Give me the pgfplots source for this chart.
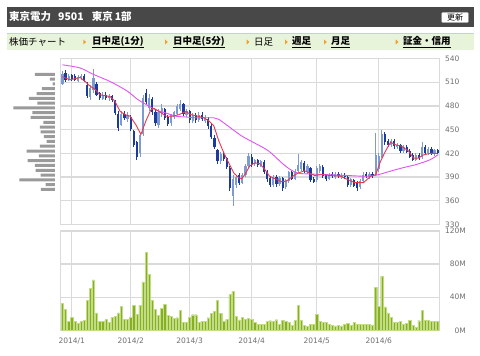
\documentclass[border=0pt]{standalone}
\usepackage{fontspec}
\usepackage{pgfplots}
\usepackage{pgfplotstable}
\pgfplotsset{compat=1.18}
\setmainfont{Noto Sans CJK JP}
\newfontfamily\tickfont{DejaVu Sans}
\definecolor{hdr}{HTML}{484848}
\definecolor{navbg}{HTML}{E8F4D9}
\definecolor{navln}{HTML}{C2DDA2}
\definecolor{tri}{HTML}{F0A030}
\definecolor{gridc}{HTML}{DADADA}
\definecolor{tickc}{HTML}{707070}
\definecolor{upc}{HTML}{7D9BD1}
\definecolor{dnc}{HTML}{1D3B9E}
\definecolor{maone}{HTML}{E8384F}
\definecolor{matwo}{HTML}{DD55F2}
\definecolor{volc}{HTML}{86B022}
\definecolor{voll}{HTML}{C3DC86}
\definecolor{histc}{HTML}{9A9A9A}

\pgfplotstableread{
i o h l c
0 508 524 506 520
1 522 526 510 513
2 514 520 511 518
3 519 521 512 514
4 518 520 512 513
5 512 519 510 517
6 516 520 513 518
7 518 521 510 512
8 507 510 490 493
9 491 506 487 503
10 500 527 496 515
11 508 510 492 494
12 496 498 488 490
13 489 497 487 494
14 494 497 488 490
15 490 495 486 492
16 492 494 485 487
17 486 488 468 471
18 470 474 448 452
19 456 474 454 470
20 470 473 462 465
21 463 472 460 468
22 466 468 448 451
23 448 450 428 431
24 434 436 412 416
25 420 446 416 443
26 444 494 442 490
27 496 502 482 485
28 478 495 474 490
29 489 491 468 472
30 472 475 455 458
31 456 476 452 472
32 470 482 466 478
33 476 478 462 465
34 466 468 454 457
35 458 470 455 468
36 466 474 463 472
37 470 483 468 480
38 476 487 473 483
39 482 484 467 470
40 469 476 466 474
41 473 475 459 462
42 461 471 459 469
43 469 471 459 462
44 462 472 460 468
45 469 472 461 463
46 461 468 459 466
47 464 466 451 454
48 455 458 438 441
49 440 443 425 428
50 424 426 406 410
51 410 422 407 419
52 418 422 410 413
53 414 416 400 403
54 402 404 372 376
55 366 392 354 388
56 380 393 376 390
57 392 395 380 383
58 383 395 381 392
59 392 407 390 404
60 404 421 402 417
61 416 419 403 407
62 406 413 404 411
63 411 413 403 405
64 405 412 403 410
65 409 411 394 397
66 397 399 384 387
67 389 391 378 380
68 380 392 378 390
69 390 392 378 381
70 381 391 379 389
71 389 390 373 376
72 377 388 375 386
73 385 398 383 396
74 396 398 386 388
75 388 400 386 397
76 398 419 396 405
77 400 412 398 409
78 408 410 395 398
79 396 406 394 404
80 402 403 384 386
81 388 390 382 384
82 386 404 384 401
83 398 406 395 404
84 403 405 389 391
85 392 394 385 387
86 388 395 386 393
87 394 396 389 391
88 390 396 388 394
89 394 396 389 391
90 390 395 388 393
91 393 395 388 390
92 390 392 378 380
93 380 389 378 387
94 386 388 377 379
95 383 385 373 376
96 377 387 375 385
97 385 396 384 393
98 394 397 389 391
99 390 396 388 394
100 394 397 389 391
101 393 446 391 418
102 400 420 397 417
103 416 449 414 444
104 445 447 431 434
105 436 438 428 430
106 430 438 428 436
107 436 438 426 429
108 428 433 426 431
109 431 432 420 423
110 423 430 421 428
111 428 430 420 422
112 423 425 414 416
113 418 420 410 412
114 412 420 410 418
115 418 420 412 414
116 415 434 413 428
117 428 431 419 421
118 420 428 418 426
119 426 428 418 420
120 419 426 417 424
121 424 425 419 421
}\candles

\pgfplotstableread{
i v
0 32.4
1 25.2
2 11.2
3 16
4 10.4
5 8.8
6 10.4
7 12
8 36
9 50.8
10 60.8
11 21.2
12 10.8
13 11.2
14 13.2
15 10
16 16
17 17.2
18 21.2
19 28.8
20 13.6
21 13.6
22 16
23 30.4
24 19.2
25 30.4
26 58.4
27 94.4
28 67.2
29 36
30 25.2
31 18.4
32 26.8
33 31.6
34 18
35 16.8
36 14.8
37 15.2
38 24
39 10
40 10
41 15.6
42 18.8
43 18.8
44 9.6
45 11.2
46 11.2
47 15.2
48 20.8
49 23.2
50 36
51 20.4
52 10.4
53 13.2
54 43.2
55 46.8
56 17.2
57 12.6
58 15.6
59 13.6
60 14.4
61 13.6
62 9.6
63 7.6
64 7.6
65 7.6
66 10.4
67 11.6
68 10.4
69 12.8
70 7.2
71 12
72 10.8
73 10
74 5.6
75 12
76 30.4
77 12.4
78 6.4
79 4.4
80 7.6
81 7.6
82 19.2
83 11.2
84 9.6
85 9.2
86 7.6
87 6.4
88 5.2
89 5.6
90 5.2
91 7.2
92 8
93 6.4
94 9.6
95 7.6
96 7.6
97 7.6
98 7.6
99 7.6
100 6.4
101 51.6
102 29.2
103 65.6
104 28.4
105 21.2
106 15.6
107 9.6
108 9.6
109 10.4
110 7.6
111 8.4
112 12
113 6.4
114 3.2
115 11.6
116 24.4
117 12
118 12
119 11.2
120 10.4
121 10.4
}\vol

\pgfplotstableread{
p v
520.0 20
513.9 5
507.9 2.3
501.8 13
495.7 18.3
489.7 26
483.6 17.7
477.5 41.7
471.4 22.7
465.4 24.3
459.3 11.7
453.2 15
447.2 14.3
441.1 11
435.0 8.3
429.0 15
422.9 28.3
416.8 16
410.7 27.3
404.7 20
398.6 19.3
392.5 14.3
386.5 35.7
380.4 9.3
374.3 14
}\hist

\pgfplotsset{panel/.style={scale only axis, width=379.5bp, xmin=-0.8, xmax=121.6,
  axis line style={draw=gridc, line width=1bp},
  grid=major, major grid style={draw=gridc, line width=1.2bp},
  major tick length=0pt,
  xtick={3,22,41,61,82,102},
  tick label style={font=\tickfont\fontsize{7.5bp}{9bp}\selectfont, text=tickc, inner sep=0pt},
}}

\begin{document}
\begin{tikzpicture}
\fill[white] (0,0) rectangle (480bp,356bp);
\path[use as bounding box] (0,0) rectangle (480bp,356bp);
% header
\fill[hdr] (6.7bp,349.3bp) rectangle (474bp,328.7bp);
\node[anchor=west, inner sep=0pt, text=white, font=\bfseries\fontsize{10.5bp}{12bp}\selectfont] at (9bp,339bp) {東京電力\hspace{7bp}9501\hspace{8bp}東京\hspace{2bp}1部};
\filldraw[fill=white, draw=gray!70, rounded corners=1bp] (441.7bp,343.7bp) rectangle (468.3bp,333.3bp);
\node[inner sep=0pt, font=\fontsize{8bp}{9bp}\selectfont] at (455bp,338.5bp) {更新};
% nav bar
\fill[navbg] (6.7bp,322.7bp) rectangle (474bp,306bp);
\draw[navln, line width=1bp] (6.7bp,322.2bp) -- (474bp,322.2bp);
\begin{scope}[every node/.style={anchor=west, inner sep=0pt, font=\fontsize{9.5bp}{11bp}\selectfont}]
\node at (9bp,314bp) {株価チャート};
\node at (92bp,314bp) {\textbf{\underline{日中足(1分)}}};
\node at (173bp,314bp) {\textbf{\underline{日中足(5分)}}};
\node at (254bp,314bp) {日足};
\node at (292bp,314bp) {\textbf{\underline{週足}}};
\node at (331bp,314bp) {\textbf{\underline{月足}}};
\node at (403bp,314bp) {\textbf{\underline{証金・信用}}};
\end{scope}
\foreach \tx in {83.3,165,246.7,285,324,395.7} {
  \fill[tri] (\tx bp,311.5bp) -- (\tx bp+2.8bp,314bp) -- (\tx bp,316.5bp) -- cycle;
}

% volume-by-price histogram
\begin{axis}[at={(10bp,297.5bp)}, anchor=north west, scale only axis, width=45bp, height=166bp,
  xmin=0, xmax=45, ymin=330, ymax=540, x dir=reverse, hide axis]
\addplot[xbar, bar width=3bp, fill=histc, draw=none] table[x=v, y=p] {\hist};
\end{axis}

% price panel
\begin{axis}[panel, at={(60bp,297.5bp)}, anchor=north west, height=166bp,
  ymin=330, ymax=540, ytick={330,360,...,540},
  yticklabels={330,360,390,420,450,480,510,540}, yticklabel pos=right,
  yticklabel style={anchor=west, xshift=5.5bp}, xticklabels={}]
% wicks
\addplot[draw=none, mark=none, error bars/.cd, y dir=both, y explicit, error mark=none,
  error bar style={draw=upc, line width=0.9bp}]
  table[x=i, y expr={\thisrow{c}>=\thisrow{o} ? (\thisrow{h}+\thisrow{l})/2 : nan},
        y error expr={(\thisrow{h}-\thisrow{l})/2}] {\candles};
\addplot[draw=none, mark=none, error bars/.cd, y dir=both, y explicit, error mark=none,
  error bar style={draw=dnc, line width=0.9bp}]
  table[x=i, y expr={\thisrow{c}<\thisrow{o} ? (\thisrow{h}+\thisrow{l})/2 : nan},
        y error expr={(\thisrow{h}-\thisrow{l})/2}] {\candles};
% bodies
\addplot[draw=none, mark=none, error bars/.cd, y dir=both, y explicit, error mark=none,
  error bar style={draw=upc, line width=2.2bp}]
  table[x=i, y expr={\thisrow{c}>=\thisrow{o} ? (\thisrow{o}+\thisrow{c})/2 : nan},
        y error expr={abs(\thisrow{c}-\thisrow{o})/2}] {\candles};
\addplot[draw=none, mark=none, error bars/.cd, y dir=both, y explicit, error mark=none,
  error bar style={draw=dnc, line width=2.2bp}]
  table[x=i, y expr={\thisrow{c}<\thisrow{o} ? (\thisrow{o}+\thisrow{c})/2 : nan},
        y error expr={abs(\thisrow{c}-\thisrow{o})/2}] {\candles};
% moving averages
\addplot[matwo, line width=0.9bp, mark=none, smooth] coordinates {
(0,532) (5.7,528) (9.9,520) (15.3,511) (20.8,499) (24.3,488) (26.9,482) (30.1,475)
(33.4,471) (36.6,467) (39.8,466) (43.0,465) (48.8,465) (50.4,463) (53.6,454) (57.8,442)
(62.0,433) (66.5,423) (70.7,408) (73.3,400) (75.9,395) (79.1,394) (85.5,393) (91.9,392)
(97.8,391) (101.3,392.5) (105.8,397.5) (110.0,402) (114.2,406) (118.6,412) (121.2,418.5)};
\addplot[maone, line width=0.9bp, mark=none] coordinates {
(0,517) (2.4,513) (5.7,516) (7.3,511) (8.9,505) (10.5,501) (12.1,494) (13.7,493)
(15.3,492) (16.9,486) (18.6,473) (20.2,469) (21.8,467) (23.7,456) (25.3,444) (26.9,461)
(28.5,475) (29.5,477) (31.1,473) (33.4,467) (35.6,467) (37.6,469) (39.8,473) (41.4,469)
(43.7,467) (45.6,465) (47.2,461) (48.8,455) (50.4,436) (52.0,421) (53.6,408) (55.3,395)
(56.9,389) (57.8,388) (58.8,393) (60.4,404) (62.0,408) (63.6,407) (65.2,400) (66.8,391)
(69.1,387) (70.7,384) (72.3,385) (74.3,391) (75.9,395) (78.1,398) (79.7,395) (81.3,392)
(83.3,393) (86.5,392) (89.7,391) (91.9,387) (94.2,383) (97.1,383) (99.4,391) (101.0,393)
(102.6,410) (104.2,423) (105.8,434) (107.4,431) (109.4,429) (111.6,423) (113.2,414)
(114.8,414) (116.4,418) (118.6,420) (120.9,420)};
\end{axis}

% volume panel
\begin{axis}[panel, at={(60bp,125bp)}, anchor=north west, height=99.3bp,
  ymin=0, ymax=120, ytick={0,40,80,120}, yticklabels={0M,40M,80M,120M},
  yticklabel pos=right, yticklabel style={anchor=east, xshift=26.5bp},
  xticklabels={2014/1,2014/2,2014/3,2014/4,2014/5,2014/6},
  xticklabel style={anchor=north, yshift=-7.5bp}]
\addplot[ybar, bar width=2.2bp, fill=volc, draw=voll, line width=0.4bp] table[x=i, y=v] {\vol};
\end{axis}
\end{tikzpicture}
\end{document}
